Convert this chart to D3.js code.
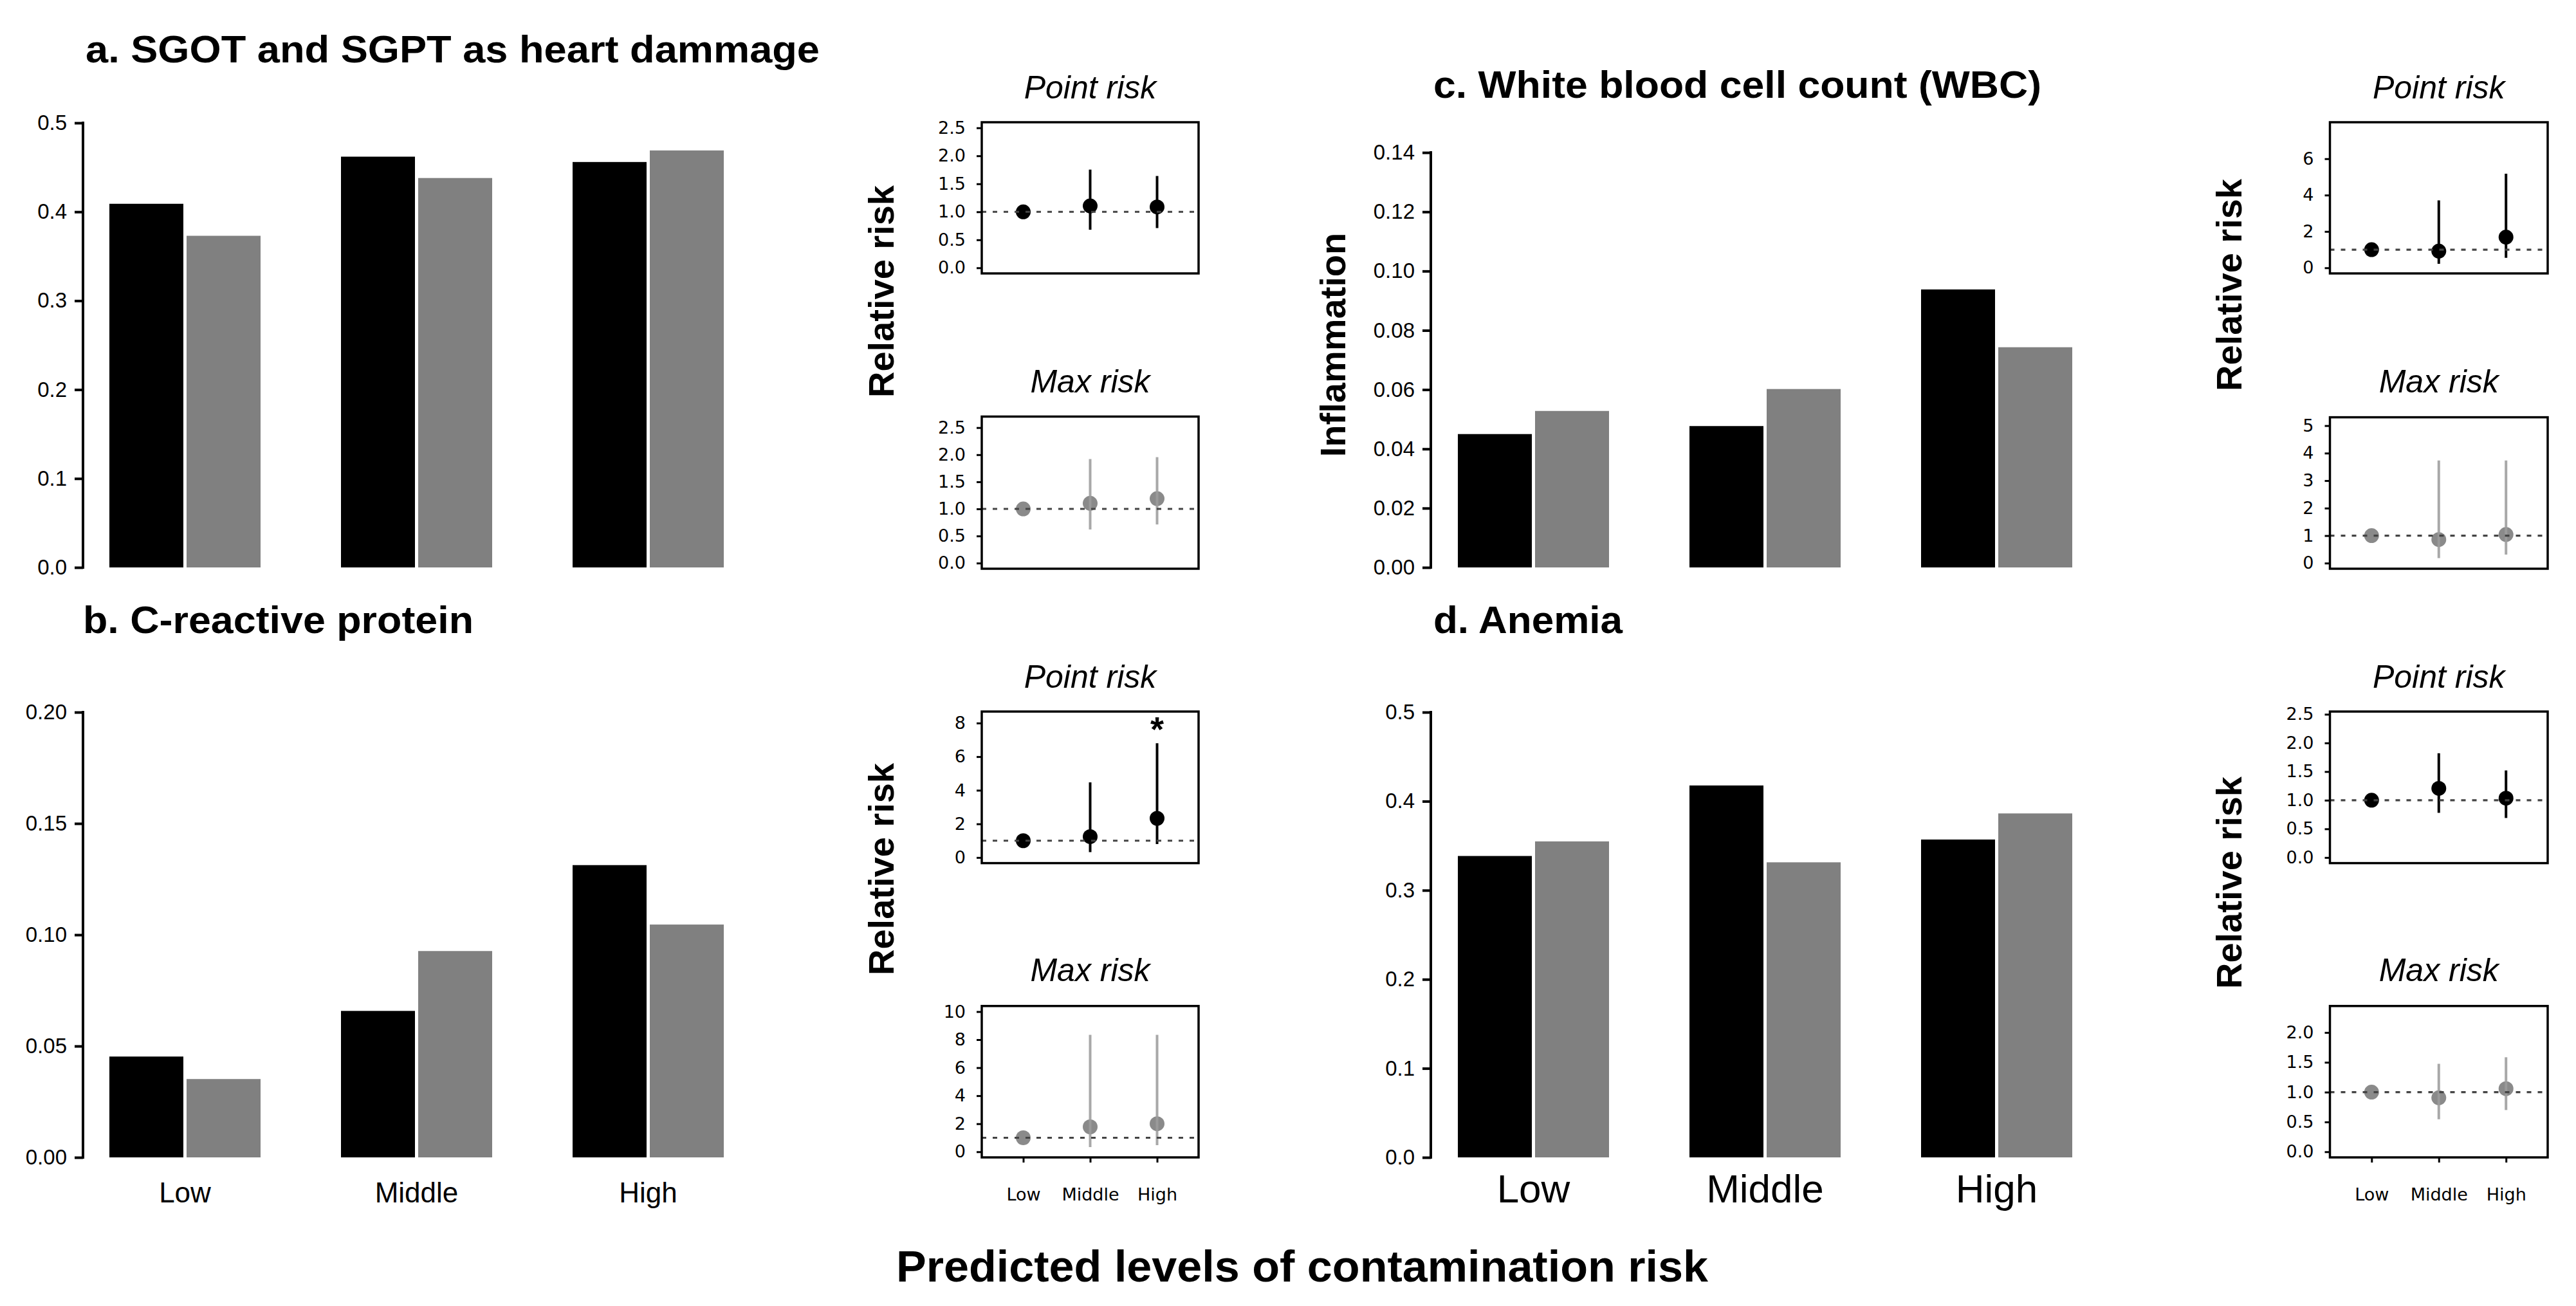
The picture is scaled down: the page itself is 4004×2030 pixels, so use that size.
<!DOCTYPE html>
<html><head><meta charset="utf-8">
<script src="https://cdn.jsdelivr.net/npm/d3@7"></script>
<style>body{margin:0;background:#fff}svg{display:block}</style>
</head><body><svg id="chart" width="4004" height="2030"></svg>
<script>
// ---------- data ----------
const categories = ["Low", "Middle", "High"];

// bar panels (black = first series, gray = second series)
const sgotBlack = [0.409, 0.462, 0.456];
const sgotGray  = [0.373, 0.438, 0.469];
const crpBlack  = [0.0453, 0.0658, 0.1313];
const crpGray   = [0.0352, 0.0927, 0.1046];
const wbcBlack  = [0.0450, 0.0477, 0.0938];
const wbcGray   = [0.0528, 0.0602, 0.0743];
const anemiaBlack = [0.3385, 0.4177, 0.357];
const anemiaGray  = [0.3549, 0.3314, 0.3863];

const ticks05 = [0, 0.1, 0.2, 0.3, 0.4, 0.5];
const labels05 = ["0.0", "0.1", "0.2", "0.3", "0.4", "0.5"];
const ticks020 = [0, 0.05, 0.10, 0.15, 0.20];
const labels020 = ["0.00", "0.05", "0.10", "0.15", "0.20"];
const ticks014 = [0, 0.02, 0.04, 0.06, 0.08, 0.10, 0.12, 0.14];
const labels014 = ["0.00", "0.02", "0.04", "0.06", "0.08", "0.10", "0.12", "0.14"];

// relative risk panels: estimate, lower, upper (null = reference level)
const sgotPointEst = [1, 1.105, 1.087], sgotPointLo = [null, 0.68, 0.71], sgotPointHi = [null, 1.754, 1.64];
const sgotMaxEst   = [1, 1.104, 1.19],  sgotMaxLo   = [null, 0.62, 0.713], sgotMaxHi  = [null, 1.92, 1.955];
const crpPointEst  = [1, 1.24, 2.33],   crpPointLo  = [null, 0.32, 0.8],   crpPointHi = [null, 4.47, 6.8];
const crpMaxEst    = [1, 1.78, 2.0],    crpMaxLo    = [null, 0.34, 0.47],  crpMaxHi   = [null, 8.34, 8.34];
const wbcPointEst  = [1, 0.92, 1.69],   wbcPointLo  = [null, 0.22, 0.55],  wbcPointHi = [null, 3.71, 5.18];
const wbcMaxEst    = [1, 0.855, 1.04],  wbcMaxLo    = [null, 0.18, 0.31],  wbcMaxHi   = [null, 3.73, 3.73];
const anPointEst   = [1, 1.206, 1.035], anPointLo   = [null, 0.78, 0.69],  anPointHi  = [null, 1.82, 1.52];
const anMaxEst     = [1, 0.906, 1.058], anMaxLo     = [null, 0.545, 0.70], anMaxHi    = [null, 1.475, 1.585];

const sgotPointLim = [0, 2.5], sgotMaxLim = [0, 2.6];
const crpPointLim = [0, 8.35], crpMaxLim = [0, 10];
const wbcPointLim = [0, 7.7], wbcMaxLim = [0, 5.1];
const anPointLim = [0, 2.45], anMaxLim = [0, 2.35];

const rTicks25 = [0, 0.5, 1, 1.5, 2, 2.5], rLabels25 = ["0.0", "0.5", "1.0", "1.5", "2.0", "2.5"];
const rTicks20 = [0, 0.5, 1, 1.5, 2], rLabels20 = ["0.0", "0.5", "1.0", "1.5", "2.0"];
const rTicks8 = [0, 2, 4, 6, 8], rLabels8 = ["0", "2", "4", "6", "8"];
const rTicks10 = [0, 2, 4, 6, 8, 10], rLabels10 = ["0", "2", "4", "6", "8", "10"];
const rTicks6 = [0, 2, 4, 6], rLabels6 = ["0", "2", "4", "6"];
const rTicks5 = [0, 1, 2, 3, 4, 5], rLabels5 = ["0", "1", "2", "3", "4", "5"];

// ---------- drawing ----------
const FONT = '"Liberation Sans", Arial, Helvetica, sans-serif';
const WIDE = '"DejaVu Sans", Verdana, sans-serif';
const svg = d3.select("#chart");
svg.append("rect").attr("width", 4004).attr("height", 2030).attr("fill", "#fff");

function barPanel(p) {
  const x = d3.scaleLinear().domain([1, 9]).range([p.left, p.left + 960]);
  const y = d3.scaleLinear().domain([0, p.ymax]).range([p.bottom, p.top]);
  const g = svg.append("g");
  const rows = [];
  categories.forEach((c, i) => {
    rows.push({ u: 1 + 3 * i, v: p.black[i], fill: "#000000" });
    rows.push({ u: 2 + 3 * i, v: p.gray[i], fill: "#808080" });
  });
  g.selectAll("rect.bar").data(rows).join("rect").attr("class", "bar")
    .attr("x", d => x(d.u)).attr("width", d => x(d.u + 1) - x(d.u) - 5)
    .attr("y", d => y(d.v)).attr("height", d => y(0) - y(d.v))
    .attr("fill", d => d.fill);
  const ax = d3.axisLeft(y).tickValues(p.ticks).tickFormat((d, i) => p.labels[i])
    .tickSize(13).tickPadding(12).tickSizeOuter(0);
  const ag = g.append("g").attr("transform", `translate(${p.axisX},0)`).call(ax)
    .attr("font-family", FONT).attr("font-size", 33);
  ag.select(".domain").remove();
  ag.selectAll(".tick line").attr("stroke", "#000").attr("stroke-width", 4);
  ag.selectAll(".tick text").attr("fill", "#000");
  g.append("line").attr("x1", p.axisX).attr("x2", p.axisX)
    .attr("y1", y(p.ticks[0]) + 2).attr("y2", y(p.ticks[p.ticks.length - 1]) - 2)
    .attr("stroke", "#000").attr("stroke-width", 4);
  if (p.xLabelSize) {
    g.selectAll("text.xl").data(categories).join("text").attr("class", "xl")
      .attr("x", (d, i) => x(2 + 3 * i) - 2.5).attr("y", 1869)
      .attr("text-anchor", "middle").attr("font-family", FONT)
      .attr("font-size", p.xLabelSize).text(d => d);
  }
  g.append("text").attr("x", p.titleX).attr("y", p.titleY)
    .attr("font-family", FONT).attr("font-weight", "bold").attr("font-size", 60)
    .attr("textLength", p.titleLen).attr("lengthAdjust", "spacingAndGlyphs")
    .text(p.title);
}

function riskBox(p) {
  const x = d3.scaleLinear().domain([0.38, 3.62]).range([p.left, p.right]);
  const r = p.ylim[1] - p.ylim[0];
  const y = d3.scaleLinear().domain([p.ylim[0] - 0.04 * r, p.ylim[1] + 0.04 * r]).range([p.bottom, p.top]);
  const g = svg.append("g");
  const ax = d3.axisLeft(y).tickValues(p.ticks).tickFormat((d, i) => p.labels[i])
    .tickSize(8).tickPadding(17).tickSizeOuter(0);
  const ag = g.append("g").attr("transform", `translate(${p.left},0)`).call(ax)
    .attr("font-family", WIDE).attr("font-size", 27);
  ag.select(".domain").remove();
  ag.selectAll(".tick line").attr("stroke", "#000").attr("stroke-width", 3);
  ag.selectAll(".tick text").attr("fill", "#000");

  const pts = categories.map((c, i) => ({ i: i + 1, est: p.est[i], lo: p.lo[i], hi: p.hi[i] }));
  g.selectAll("circle").data(pts).join("circle")
    .attr("cx", d => x(d.i)).attr("cy", d => y(d.est)).attr("r", 11.5)
    .attr("fill", p.gray ? "#8a8a8a" : "#000");
  g.selectAll("line.ci").data(pts.filter(d => d.lo !== null)).join("line").attr("class", "ci")
    .attr("x1", d => x(d.i)).attr("x2", d => x(d.i))
    .attr("y1", d => y(d.lo)).attr("y2", d => y(d.hi))
    .attr("stroke", p.gray ? "rgb(156,156,156)" : "#000")
    .attr("stroke-opacity", p.gray ? 0.88 : 1)
    .attr("stroke-width", 4);
  g.append("line").attr("x1", p.left).attr("x2", p.right)
    .attr("y1", y(1)).attr("y2", y(1))
    .attr("stroke", "#444").attr("stroke-width", 3.2).attr("stroke-dasharray", "7,10");
  if (p.star) {
    g.append("text").attr("x", x(p.star)).attr("y", p.top + 46).attr("text-anchor", "middle")
      .attr("font-family", FONT).attr("font-weight", "bold").attr("font-size", 54).text("*");
  }
  g.append("rect").attr("x", p.left).attr("y", p.top)
    .attr("width", p.right - p.left).attr("height", p.bottom - p.top)
    .attr("fill", "none").attr("stroke", "#000").attr("stroke-width", 3.5);
  g.append("text").attr("x", (p.left + p.right) / 2).attr("y", p.titleY)
    .attr("text-anchor", "middle").attr("font-family", FONT).attr("font-style", "italic")
    .attr("font-size", 50).text(p.title);
  if (p.showX) {
    const xa = d3.axisBottom(x).tickValues([1, 2, 3]).tickFormat((d, i) => categories[i])
      .tickSize(8).tickPadding(40).tickSizeOuter(0);
    const xg = g.append("g").attr("transform", `translate(0,${p.bottom})`).call(xa)
      .attr("font-family", WIDE).attr("font-size", 27);
    xg.select(".domain").remove();
    xg.selectAll(".tick line").attr("stroke", "#000").attr("stroke-width", 3);
    xg.selectAll(".tick text").attr("fill", "#000");
  }
}

function yLabel(text, x, y) {
  svg.append("text").attr("transform", `translate(${x},${y}) rotate(-90)`)
    .attr("text-anchor", "middle").attr("font-family", FONT).attr("font-weight", "bold")
    .attr("font-size", 56).text(text);
}

// bar panels
barPanel({ left: 170, axisX: 129, top: 191, bottom: 882, ymax: 0.5, ticks: ticks05, labels: labels05,
  black: sgotBlack, gray: sgotGray, title: "a. SGOT and SGPT as heart dammage", titleX: 133, titleY: 97, titleLen: 1141 });
barPanel({ left: 170, axisX: 129, top: 1107, bottom: 1799, ymax: 0.2, ticks: ticks020, labels: labels020,
  black: crpBlack, gray: crpGray, xLabelSize: 44, title: "b. C-reactive protein", titleX: 129, titleY: 984, titleLen: 607 });
barPanel({ left: 2266, axisX: 2224, top: 191, bottom: 882, ymax: 0.15, ticks: ticks014, labels: labels014,
  black: wbcBlack, gray: wbcGray, title: "c. White blood cell count (WBC)", titleX: 2228, titleY: 152, titleLen: 945 });
barPanel({ left: 2266, axisX: 2224, top: 1107, bottom: 1799, ymax: 0.5, ticks: ticks05, labels: labels05,
  black: anemiaBlack, gray: anemiaGray, xLabelSize: 62, title: "d. Anemia", titleX: 2228, titleY: 984, titleLen: 294 });

// risk panels
riskBox({ left: 1526, right: 1863, top: 190, bottom: 425, ylim: sgotPointLim, ticks: rTicks25, labels: rLabels25,
  est: sgotPointEst, lo: sgotPointLo, hi: sgotPointHi, title: "Point risk", titleY: 153 });
riskBox({ left: 1526, right: 1863, top: 647.5, bottom: 884, ylim: sgotMaxLim, ticks: rTicks25, labels: rLabels25,
  est: sgotMaxEst, lo: sgotMaxLo, hi: sgotMaxHi, gray: true, title: "Max risk", titleY: 610 });
riskBox({ left: 1526, right: 1863, top: 1106, bottom: 1341.6, ylim: crpPointLim, ticks: rTicks8, labels: rLabels8,
  est: crpPointEst, lo: crpPointLo, hi: crpPointHi, title: "Point risk", titleY: 1069, star: 3 });
riskBox({ left: 1526, right: 1863, top: 1563.7, bottom: 1799, ylim: crpMaxLim, ticks: rTicks10, labels: rLabels10,
  est: crpMaxEst, lo: crpMaxLo, hi: crpMaxHi, gray: true, title: "Max risk", titleY: 1525, showX: true });
riskBox({ left: 3621.5, right: 3960, top: 190, bottom: 425, ylim: wbcPointLim, ticks: rTicks6, labels: rLabels6,
  est: wbcPointEst, lo: wbcPointLo, hi: wbcPointHi, title: "Point risk", titleY: 153 });
riskBox({ left: 3621.5, right: 3960, top: 648.6, bottom: 884, ylim: wbcMaxLim, ticks: rTicks5, labels: rLabels5,
  est: wbcMaxEst, lo: wbcMaxLo, hi: wbcMaxHi, gray: true, title: "Max risk", titleY: 610 });
riskBox({ left: 3621.5, right: 3960, top: 1106, bottom: 1341.6, ylim: anPointLim, ticks: rTicks25, labels: rLabels25,
  est: anPointEst, lo: anPointLo, hi: anPointHi, title: "Point risk", titleY: 1069 });
riskBox({ left: 3621.5, right: 3960, top: 1563.7, bottom: 1799, ylim: anMaxLim, ticks: rTicks20, labels: rLabels20,
  est: anMaxEst, lo: anMaxLo, hi: anMaxHi, gray: true, title: "Max risk", titleY: 1525, showX: true });

// axis titles
yLabel("Relative risk", 1389, 453);
yLabel("Relative risk", 1389, 1351);
yLabel("Relative risk", 3484, 443);
yLabel("Relative risk", 3484, 1372);
yLabel("Inflammation", 2091, 536);

svg.append("text").attr("x", 2024).attr("y", 1992).attr("text-anchor", "middle")
  .attr("font-family", FONT).attr("font-weight", "bold").attr("font-size", 69)
  .attr("textLength", 1262).attr("lengthAdjust", "spacingAndGlyphs")
  .text("Predicted levels of contamination risk");
</script></body></html>
